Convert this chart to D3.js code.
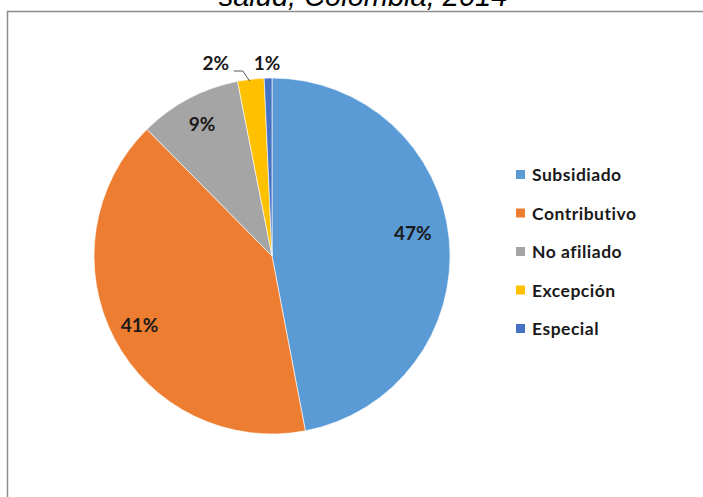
<!DOCTYPE html>
<html>
<head>
<meta charset="utf-8">
<script src="https://cdn.jsdelivr.net/npm/d3@7"></script>
<style>
  html, body { margin: 0; padding: 0; background: #fff; }
  svg { display: block; }
</style>
</head>
<body>
<svg id="chart" width="703" height="497"></svg>
<script>
// Afiliación al sistema de salud, Colombia, 2014
const categories = ["Subsidiado", "Contributivo", "No afiliado", "Excepción", "Especial"];
const shares = [47.0, 40.6, 9.3, 2.4, 0.7];
const colors = ["#5B9BD5", "#ED7D31", "#A5A5A5", "#FFC000", "#4472C4"];
const titleText = "salud, Colombia, 2014";

const svg = d3.select("#chart");
const W = 703, H = 497;

// chart frame
svg.append("path")
  .attr("d", `M7.5,${H} V11.5 H${W}`)
  .attr("fill", "none")
  .attr("stroke", "#8c8c8c")
  .attr("stroke-width", 1.5);

// title (its upper part runs off the top of the page)
svg.append("text")
  .attr("x", 363).attr("y", 6)
  .attr("text-anchor", "middle")
  .attr("font-family", "Liberation Sans, Arial, sans-serif")
  .attr("font-style", "italic")
  .attr("font-size", 29)
  .attr("fill", "#000")
  .text(titleText);

const cx = 272, cy = 256, R = 178;
const data = categories.map((c, i) => ({ name: c, value: shares[i], color: colors[i] }));

const pie = d3.pie().sort(null).value(d => d.value);
const arcs = pie(data);
const arc = d3.arc().innerRadius(0).outerRadius(R);

const g = svg.append("g").attr("transform", `translate(${cx},${cy})`);

g.selectAll("path.slice")
  .data(arcs)
  .enter().append("path")
  .attr("class", "slice")
  .attr("d", arc)
  .attr("fill", d => d.data.color)
  .attr("stroke", "#fff")
  .attr("stroke-width", 0.6);

const fmt = v => Math.round(v) + "%";
const labelFont = "Lato, 'Open Sans', sans-serif";
const labelSize = 19;

// inside labels for the large slices
const inner = arcs.filter(d => d.data.value >= 5);
const labelArc = d3.arc().innerRadius(R * 0.84).outerRadius(R * 0.84);
g.selectAll("text.inner")
  .data(inner)
  .enter().append("text")
  .attr("class", "inner")
  .attr("transform", d => {
    const [x, y] = labelArc.centroid(d);
    // the largest slice label sits a little higher, toward the upper right
    return d.index === 0 ? `translate(${x - 8},${y - 9})` : `translate(${x},${y})`;
  })
  .attr("text-anchor", "middle")
  .attr("dy", "0.35em")
  .attr("font-family", labelFont)
  .attr("font-weight", "bold")
  .attr("font-size", labelSize)
  .attr("fill", "#1a1a1a")
  .text(d => fmt(d.data.value));

// outside labels for the thin slices, placed above the pie
const outer = arcs.filter(d => d.data.value < 5);
const outerY = -R - 15;
outer.forEach((d, k) => {
  const mid = (d.startAngle + d.endAngle) / 2;
  const ex = R * Math.sin(mid), ey = -R * Math.cos(mid);
  const last = k === outer.length - 1;
  const lx = last ? ex - 1 : ex - 35;
  g.append("text")
    .attr("x", lx).attr("y", outerY)
    .attr("text-anchor", "middle")
    .attr("dy", "0.35em")
    .attr("font-family", labelFont)
    .attr("font-weight", "bold")
    .attr("font-size", labelSize)
    .attr("fill", "#1a1a1a")
    .text(fmt(d.data.value));
  if (!last) {
    g.append("polyline")
      .attr("points", [[lx + 18, outerY + 8], [lx + 27, outerY + 8], [ex - 1, ey + 2]].map(p => p.join(",")).join(" "))
      .attr("fill", "none")
      .attr("stroke", "#595959")
      .attr("stroke-width", 1);
  }
});

// legend
const legend = svg.append("g").attr("transform", "translate(516,175)");
const rowGap = 38.5;
const rows = legend.selectAll("g.row")
  .data(data)
  .enter().append("g")
  .attr("class", "row")
  .attr("transform", (d, i) => `translate(0,${i * rowGap})`);
rows.append("rect")
  .attr("x", 0).attr("y", -5)
  .attr("width", 9).attr("height", 9)
  .attr("fill", d => d.color);
rows.append("text")
  .attr("x", 16).attr("y", 0)
  .attr("dy", "0.35em")
  .attr("font-family", labelFont)
  .attr("font-weight", "bold")
  .attr("font-size", 17.5)
  .attr("letter-spacing", 0.5)
  .attr("fill", "#1a1a1a")
  .text(d => d.name);
</script>
</body>
</html>
